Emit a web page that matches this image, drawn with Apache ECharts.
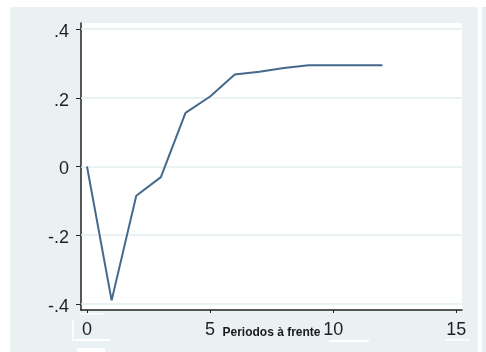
<!DOCTYPE html>
<html>
<head>
<meta charset="utf-8">
<script src="https://cdn.jsdelivr.net/npm/echarts@6/dist/echarts.min.js"></script>
<style>
html,body{margin:0;padding:0;background:#ffffff;}
#chart{width:486px;height:352px;}
</style>
</head>
<body>
<div id="chart"></div>
<script>
// Data
var periods = [0, 1, 2, 3, 4, 5, 6, 7, 8, 9, 10, 11, 12];
var response = [0.0, -0.39, -0.085, -0.031, 0.156, 0.204, 0.268, 0.276, 0.287, 0.295, 0.295, 0.295, 0.295];
var xTicks = [0, 5, 10, 15];
var xTickLabels = ['0', '5', '10', '15'];
var yTicks = [-0.4, -0.2, 0, 0.2, 0.4];
var yTickLabels = ['-.4', '-.2', '0', '.2', '.4'];
var xTitle = 'Periodos à frente';

var chart = echarts.init(document.getElementById('chart'), null, {renderer: 'canvas'});

function labelFor(vals, labels) {
  return function (v) {
    for (var i = 0; i < vals.length; i++) {
      if (Math.abs(vals[i] - v) < 1e-9) return labels[i];
    }
    return '';
  };
}

var seriesData = periods.map(function (p, i) { return [p, response[i]]; });

var option = {
  animation: false,
  backgroundColor: '#ffffff',
  graphic: [
    {type: 'rect', z: -10, shape: {x: 10, y: 7, width: 468, height: 345}, style: {fill: '#eaf1f3'}},
    {type: 'rect', z: -10, shape: {x: 482, y: 7, width: 4, height: 345}, style: {fill: '#e6eef1'}},
    {type: 'rect', z: -9, shape: {x: 81, y: 23, width: 381, height: 287}, style: {fill: '#ffffff'}},
    {type: 'rect', z: 100, shape: {x: 72, y: 339, width: 38, height: 2}, style: {fill: '#ffffff'}},
    {type: 'rect', z: 100, shape: {x: 72, y: 320, width: 1.5, height: 20}, style: {fill: '#ffffff'}},
    {type: 'rect', z: 100, shape: {x: 77, y: 348, width: 28, height: 4}, style: {fill: '#ffffff'}},
    {type: 'rect', z: 100, shape: {x: 80, y: 313, width: 23, height: 1.5}, style: {fill: '#ffffff'}},
    {type: 'rect', z: 100, shape: {x: 329, y: 340, width: 40, height: 2}, style: {fill: '#ffffff'}},
    {type: 'rect', z: 100, shape: {x: 445, y: 339, width: 25, height: 1.5}, style: {fill: '#ffffff'}}
  ],
  grid: {left: 81, top: 23, right: 24, bottom: 42, containLabel: false},
  xAxis: {
    type: 'value',
    min: -0.244,
    max: 15.23,
    name: xTitle,
    nameLocation: 'middle',
    nameGap: 17,
    nameMoveOverlap: false,
    nameTextStyle: {fontSize: 12, fontWeight: 'bold', color: '#1a1a1a', fontFamily: 'Liberation Sans, Arial, sans-serif'},
    axisLine: {show: true, onZero: false, lineStyle: {color: '#222', width: 1.5}},
    axisTick: {show: true, customValues: xTicks, length: 3, lineStyle: {color: '#222', width: 1}},
    axisLabel: {
      customValues: xTicks,
      formatter: labelFor(xTicks, xTickLabels),
      fontSize: 18, color: '#1f1f2a', margin: 11,
      fontFamily: 'Liberation Sans, Arial, sans-serif'
    },
    splitLine: {show: false}
  },
  yAxis: {
    type: 'value',
    min: -0.418,
    max: 0.418,
    axisLine: {show: true, onZero: false, lineStyle: {color: '#222', width: 1.5}},
    axisTick: {show: true, customValues: yTicks, length: 5, lineStyle: {color: '#222', width: 1}},
    axisLabel: {
      customValues: yTicks,
      formatter: function (v) { return '{a|' + labelFor(yTicks, yTickLabels)(v) + '}'; },
      rich: {a: {fontSize: 18, color: '#1f1f2a', padding: [6, 0, 0, 0], fontFamily: 'Liberation Sans, Arial, sans-serif'}},
      fontSize: 18, color: '#1f1f2a', margin: 12,
      fontFamily: 'Liberation Sans, Arial, sans-serif'
    },
    splitLine: {show: false}
  },
  series: [{
    type: 'line',
    data: seriesData,
    showSymbol: false,
    symbol: 'none',
    lineStyle: {color: '#44698c', width: 2},
    z: 3,
    markLine: {
      silent: true,
      z: 1,
      symbol: ['none', 'none'],
      label: {show: false},
      lineStyle: {color: '#e4eef1', width: 1.5, type: 'solid'},
      emphasis: {disabled: true},
      data: yTicks.map(function (v) { return {yAxis: v}; })
    }
  }]
};

chart.setOption(option);
</script>
</body>
</html>
